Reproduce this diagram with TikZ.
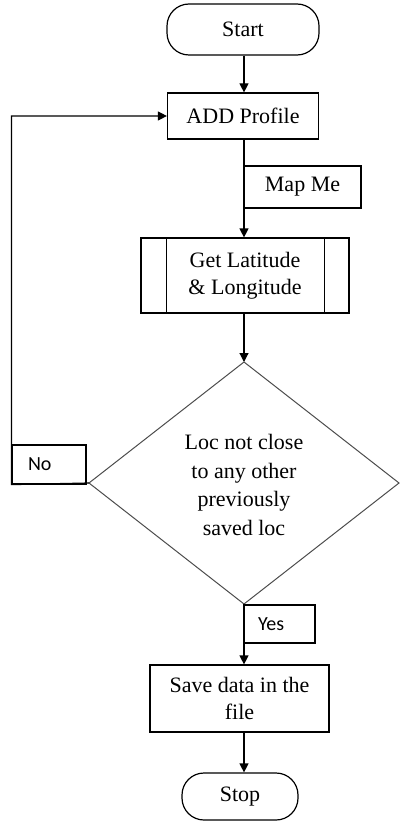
\documentclass[tikz,border=0pt]{standalone}
\usepackage{fontspec}
\setmainfont{Liberation Serif}
\newfontfamily\lblfont{Carlito}
\usetikzlibrary{arrows.meta,shapes.geometric}
\begin{document}
\begin{tikzpicture}[x=1pt,y=-1pt,
  box/.style={draw=black,line width=1.2pt,rectangle,inner sep=0pt,align=center,font=\fontsize{22}{27}\selectfont},
  term/.style={box,rounded corners=22pt},
  lbl/.style={draw=black,line width=1.2pt,rectangle,inner sep=0pt,font=\lblfont\fontsize{20}{23}\selectfont},
  flow/.style={line width=1.2pt,-{Triangle[length=9pt,width=9pt]}},
  plain/.style={line width=1.2pt}]
\useasboundingbox (0,0) rectangle (400,821);
\node[term,minimum width=152pt,minimum height=51pt] (start) at (243,29.5) {Start};
\node[box,minimum width=151pt,minimum height=46pt] (add) at (243,116) {ADD Profile};
\node[box,minimum width=117pt,minimum height=42pt] (mapme) at (302.5,187) {Map Me};
\node[box,minimum width=208pt,minimum height=75pt] (getlat) at (245,275.5) {Get Latitude\\\& Longitude};
\draw[plain] ([xshift=26pt]getlat.north west) -- ([xshift=26pt]getlat.south west);
\draw[plain] ([xshift=-25pt]getlat.north east) -- ([xshift=-25pt]getlat.south east);
\draw[draw=black!70,line width=1pt] (244,362) coordinate (dtop) -- (399,483) coordinate (dright) -- (244,604) coordinate (dbot) -- (89,483) coordinate (dleft) -- cycle;
\node[align=center,font=\fontsize{22}{28.5}\selectfont] (dia) at (244,485) {Loc not close\\to any other\\previously\\saved loc};
\node[lbl,minimum width=74pt,minimum height=39pt,text width=42pt,align=left] (no) at (49,464.5) {No};
\node[lbl,minimum width=71pt,minimum height=38pt,text width=43pt,align=left] (yes) at (279.5,624) {Yes};
\node[box,minimum width=179pt,minimum height=67pt] (save) at (239.5,698.5) {Save data in the\\file};
\node[term,minimum width=116pt,minimum height=47pt] (stop) at (240,796.5) {Stop};
\draw[flow] (start.south -| 244,0) -- (244,0 |- add.north);
\draw[flow] (add.south -| 244,0) -- (244,0 |- getlat.north);
\draw[flow] (getlat.south -| 244,0) -- (dtop);
\draw[flow] (dbot) -- (244,0 |- save.north);
\draw[flow] (save.south -| 244,0) -- (244,0 |- stop.north);
\draw[flow] (dleft) -- (no.south west) |- (add.west);
\end{tikzpicture}
\end{document}
